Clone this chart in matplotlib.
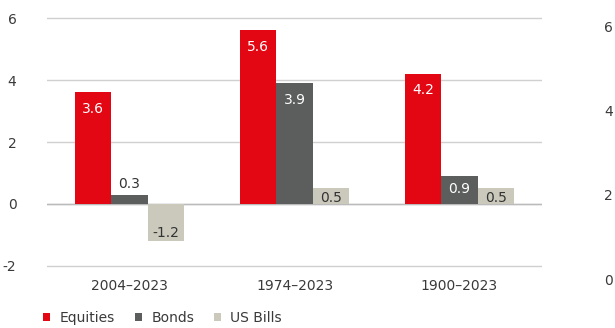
import matplotlib
matplotlib.use("Agg")
import matplotlib.pyplot as plt
import numpy as np

plt.rcParams['font.family'] = ['DejaVu Sans']

categories = ["2004\u20132023", "1974\u20132023", "1900\u20132023"]
series_names = ["Equities", "Bonds", "US Bills"]
equities = [3.6, 5.6, 4.2]
bonds = [0.3, 3.9, 0.9]
bills = [-1.2, 0.5, 0.5]
yticks = [-2, 0, 2, 4, 6]
right_ticks = ["6", "4", "2", "0"]

colors = ["#e30613", "#5b5e5d", "#cbc9bb"]
label_colors = ["white", "white", "#333333"]
FS = 10

fig = plt.figure(figsize=(6.15, 3.28), dpi=100)
ax = fig.add_axes([47/615, 60.5/328, 495/615, 251/328])

x = np.arange(len(categories))
w = 0.22
allv = [equities, bonds, bills]
for i, (vals, name) in enumerate(zip(allv, series_names)):
    xs = x + (i - 1) * w
    ax.bar(xs, vals, width=w, color=colors[i], label=name, zorder=3)
    for xi, v in zip(xs, vals):
        txt = f"{v:.1f}"
        if v >= 1.5:
            ax.annotate(txt, (xi, v), xytext=(0, -12), textcoords="offset points",
                        ha="center", va="center", color="white", fontsize=FS, zorder=4)
        elif v < 0:
            ax.annotate(txt, (xi, v), xytext=(0, 6), textcoords="offset points",
                        ha="center", va="center", color="#333333", fontsize=FS, zorder=4)
        elif i == 1 and v < 0.5:
            ax.annotate(txt, (xi, v), xytext=(0, 8), textcoords="offset points",
                        ha="center", va="center", color="#333333", fontsize=FS, zorder=4)
        else:
            ax.annotate(txt, (xi, v / 2), xytext=(0, 1 if i == 1 else -1), textcoords="offset points",
                        ha="center", va="center", color=label_colors[i], fontsize=FS, zorder=4)

ax.set_xlim(-0.5, 2.5)
ax.set_ylim(-2.05, 6.05)
ax.set_yticks(yticks)
ax.set_yticklabels([str(t) for t in yticks])
ax.set_xticks(x)
ax.set_xticklabels(categories)
ax.grid(axis="y", color="#d0d0d0", linewidth=1, zorder=0)
for s in ax.spines.values():
    s.set_visible(False)
ax.tick_params(axis="both", length=0, colors="#3a3a3a", labelsize=FS)
ax.tick_params(axis="y", pad=22)
ax.tick_params(axis="x", pad=8)
ax.axhline(0, color="#bbbbbb", linewidth=1, zorder=2)

# partial axis labels of neighbouring chart at right edge
for lab, yp in zip(right_ticks, [28, 112, 196, 281]):
    fig.text(604/615, 1 - yp/328, lab, ha="left", va="center", fontsize=FS, color="#3a3a3a")

leg = fig.legend(loc="lower left", bbox_to_anchor=(0.05, -0.028), ncol=3, frameon=False,
                 fontsize=FS, handlelength=0.5, handleheight=0.5, handletextpad=0.7,
                 columnspacing=1.4, labelcolor="#3a3a3a")

fig.savefig("out.png", dpi=100)
